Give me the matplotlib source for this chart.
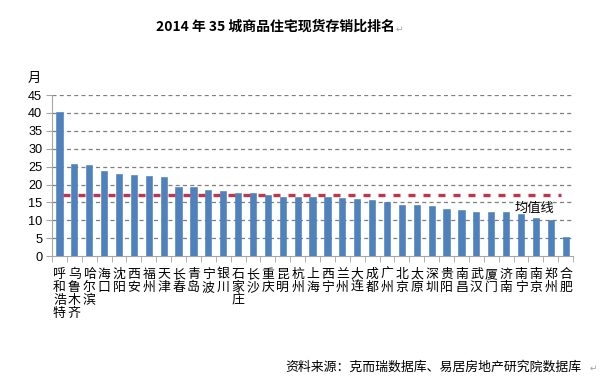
import matplotlib
matplotlib.use("Agg")
import matplotlib.pyplot as plt
import numpy as np

plt.rcParams['font.family'] = ['Noto Sans CJK SC', 'DejaVu Sans']

cities = ["呼和浩特", "乌鲁木齐", "哈尔滨", "海口", "沈阳", "西安", "福州", "天津", "长春", "青岛",
          "宁波", "银川", "石家庄", "长沙", "重庆", "昆明", "杭州", "上海", "西宁", "兰州",
          "大连", "成都", "广州", "北京", "太原", "深圳", "贵阳", "南昌", "武汉", "厦门",
          "济南", "南宁", "南京", "郑州", "合肥"]
values = [40.2, 25.7, 25.4, 23.9, 22.9, 22.6, 22.4, 22.1, 19.2, 19.2,
          18.6, 18.1, 17.7, 17.7, 17.0, 16.6, 16.6, 16.5, 16.5, 16.2,
          15.9, 15.6, 15.2, 14.4, 14.4, 14.0, 13.1, 12.8, 12.2, 12.2,
          12.2, 11.7, 10.7, 10.0, 5.4]
mean_value = 17.1
yticks = [0, 5, 10, 15, 20, 25, 30, 35, 40, 45]

title = "2014 年 35 城商品住宅现货存销比排名"
source = "资料来源：克而瑞数据库、易居房地产研究院数据库"

fig = plt.figure(figsize=(6.13, 3.85), dpi=100)
ax = fig.add_axes([0.0848, 0.335, 0.935 - 0.0848, 0.753 - 0.335])

x = np.arange(len(cities))
ax.bar(x, values, width=0.42, color="#4F81BD", edgecolor="#4A7DB8", linewidth=0.4, zorder=3)

ax.set_xlim(-0.5, len(cities) - 0.5)
ax.set_ylim(0, 45)
ax.set_yticks(yticks)
ax.set_yticklabels([str(v) for v in yticks], fontsize=9.2, family=['Liberation Sans', 'DejaVu Sans'])
for v in yticks[1:]:
    ax.axhline(v, color="#7F7F7F", linewidth=0.9, linestyle=(0, (3.2, 2.6)), zorder=1)

ax.hlines(mean_value, 0.22, len(cities) - 1.33, color="#C0364A", linewidth=2.4,
          linestyle=(0, (2.1, 2.4)), zorder=4)
ax.text(len(cities) - 3.1, mean_value - 1.9, "均值线", fontsize=9.5, ha="center", va="top", zorder=5)

for s in ["top", "right"]:
    ax.spines[s].set_visible(False)
ax.spines["left"].set_color("#A6A6A6")
ax.spines["bottom"].set_color("#A6A6A6")
ax.tick_params(axis="y", length=4, color="#A6A6A6", pad=3)
ax.set_xticks(np.arange(len(cities) + 1) - 0.5, minor=True)
ax.set_xticks([])
ax.tick_params(axis="x", which="minor", length=4, color="#A6A6A6")

for i, name in enumerate(cities):
    ax.text(i, -3.3, "\n".join(name), ha="center", va="top", fontsize=9.3,
            linespacing=1.0, transform=ax.transData, clip_on=False)

fig.text(0.0457, 0.797, "月", fontsize=9.5, ha="left", va="center")

fig.text(0.449, 0.930, title, fontsize=10, fontweight="bold", ha="center", va="center")
fig.text(0.645, 0.925, "↵", fontsize=6.5, color="#A0A0A0", ha="left", va="center",
         family=['DejaVu Sans'])

fig.text(0.465, 0.047, source, fontsize=9.3, ha="left", va="center")
fig.text(0.962, 0.043, "↵", fontsize=6.5, color="#A0A0A0", ha="left", va="center",
         family=['DejaVu Sans'])

fig.savefig("out.png", dpi=100)
